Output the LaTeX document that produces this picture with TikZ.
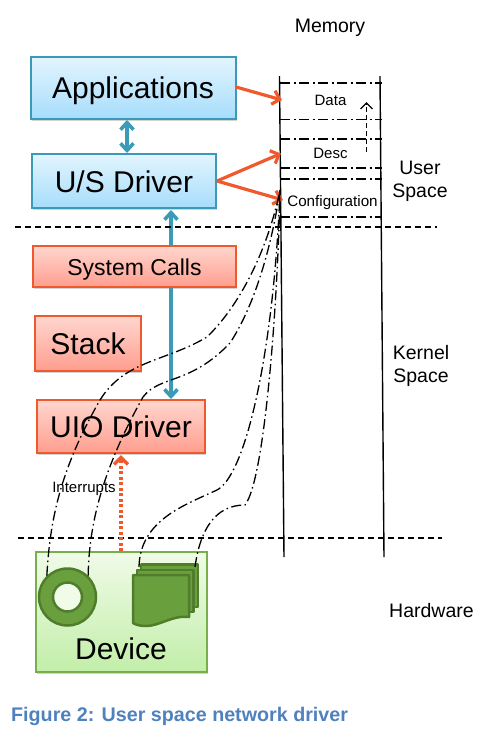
\documentclass[tikz,border=0pt]{standalone}
\usepackage{xcolor}
\usepackage{fontspec}
\setmainfont{Liberation Sans}
\usepackage{tikz}
\usetikzlibrary{arrows.meta,shadows}

\definecolor{bluedge}{HTML}{3A9AB8}
\definecolor{bluetop}{HTML}{E3F5FE}
\definecolor{bluebot}{HTML}{A6DDFB}
\definecolor{reddge}{HTML}{F0592B}
\definecolor{redtop}{HTML}{FFD6CF}
\definecolor{redbot}{HTML}{FF9E8E}
\definecolor{greenedge}{HTML}{78AF4A}
\definecolor{greentop}{HTML}{F0FBE8}
\definecolor{greenbot}{HTML}{C2EEA9}
\definecolor{leaffill}{HTML}{6A9F3E}
\definecolor{leafedge}{HTML}{4F7D2B}
\definecolor{captionblue}{HTML}{4F81BD}

\tikzset{
    plainbox/.style={draw, line width=1.5pt, inner sep=0pt, drop shadow={shadow xshift=1pt, shadow yshift=-2pt, opacity=0.35}},
    bluebox/.style={plainbox, draw=bluedge, top color=bluetop, bottom color=bluebot},
    redbox/.style={plainbox, draw=reddge, top color=redtop, bottom color=redbot},
    greenbox/.style={plainbox, draw=greenedge, top color=greentop, bottom color=greenbot},
    boundary/.style={dash pattern=on 6pt off 4pt, line width=1.2pt},
    memline/.style={line width=1.4pt},
    slot/.style={line width=1.3pt, dash pattern=on 10pt off 3.5pt on 2pt off 3.5pt},
    dmalink/.style={line width=1.3pt, dash pattern=on 10pt off 3.5pt on 1.5pt off 3.5pt},
    bluelink/.style={draw=bluedge, line width=3.6pt},
    redlink/.style={draw=reddge, line width=3.2pt, -{Straight Barb[length=7pt,width=14pt]}},
    bigtext/.style={font=\fontsize{30}{30}\selectfont},
    sidetext/.style={font=\fontsize{19.5}{23}\selectfont, align=center},
    smalltext/.style={font=\fontsize{15}{15}\selectfont},
    leaf/.style={draw=leafedge, fill=leaffill, line width=2.5pt, line join=round}
}

\begin{document}
\begin{tikzpicture}[x=1pt,y=-1pt]
    \useasboundingbox (0,0) rectangle (492,737);

    \draw[bluelink, {Straight Barb[length=7pt,width=13pt]}-{Straight Barb[length=7pt,width=13pt]}] (127,120) -- (127,153);
    \coordinate (sysarrowtop) at (171,210);
    \coordinate (sysarrowend) at (171,399);
    \draw[bluelink, {Straight Barb[length=7pt,width=13pt]}-{Straight Barb[length=7pt,width=13pt]}] (sysarrowtop) -- (sysarrowend);

    \node[bluebox, minimum width=205pt, minimum height=62pt] (apps) at (133.5,88) {};
    \node[bigtext] (appstext) at (133,90.5) {Applications};
    \node[bluebox, minimum width=184pt, minimum height=54pt] (usdriver) at (124,181) {};
    \node[bigtext] (ustext) at (124,182) {U/S Driver};
    \node[redbox, minimum width=203pt, minimum height=41pt] (syscalls) at (134.5,266.5) {};
    \node[font=\fontsize{23}{23}\selectfont] (systext) at (134.5,269.5) {System Calls};
    \node[redbox, minimum width=106pt, minimum height=55pt] (stack) at (88,343.5) {};
    \node[bigtext] (stacktext) at (88,343.5) {Stack};
    \node[redbox, minimum width=168pt, minimum height=53pt] (uio) at (121,426.5) {};
    \node[bigtext] (uiotext) at (121,427) {UIO Driver};
    \node[greenbox, minimum width=171pt, minimum height=120pt] (device) at (121.5,612) {};
    \node[bigtext] (devicetext) at (121,649) {Device};

    \node[circle, draw=leafedge, fill=leaffill, line width=2.5pt, minimum size=57pt, inner sep=0pt] (ring) at (67.5,597) {};
    \node[circle, draw=leafedge, fill=greentop, line width=2.5pt, minimum size=29pt, inner sep=0pt] (ringhole) at (67.5,597) {};

    \draw[leaf] (141,564.5) -- (198,564.5) -- (198,607) -- (141,607) -- cycle;
    \draw[leaf] (137,570) -- (193.5,570) -- (193.5,612) -- (137,612) -- cycle;
    \draw[leaf] (133,575) -- (189,575) -- (189,617) .. controls (172,615) and (160,626) .. (146,626) .. controls (141,626) and (136,625) .. (133,623) -- cycle;
    \coordinate (pagefront) at (139,567);
    \coordinate (pageback) at (195,567);

    \draw[boundary] (15,227) -- (437,227);
    \draw[boundary] (18,538) -- (442,538);

    \coordinate (memleft) at (279.5,76);
    \coordinate (memleftend) at (284,557);
    \coordinate (memright) at (380,76);
    \coordinate (memrightend) at (384,557);
    \draw[memline] (memleft) -- (memleftend);
    \draw[memline] (memright) -- (memrightend);

    \foreach \i/\ypos in {a/83, b/119.5, c/139, d/168, e/179, f/217} {
        \coordinate (slot\i l) at (280,\ypos);
        \coordinate (slot\i r) at (382,\ypos);
        \draw[slot] (slot\i l) -- (slot\i r);
    }

    \coordinate (ptrstart) at (366.5,152);
    \coordinate (ptrend) at (366.5,102);
    \draw[line width=1.3pt, dash pattern=on 5pt off 3pt, -{Straight Barb[length=6pt,width=12pt]}] (ptrstart) -- (ptrend);

    \node[smalltext] (datatext) at (330.5,100.5) {Data};
    \node[smalltext] (desctext) at (330.5,153.5) {Desc};
    \node[font=\fontsize{15.2}{15}\selectfont] (conftext) at (332.5,203) {Configuration};
    \node[sidetext] (memtext) at (330,27.5) {Memory};
    \node[sidetext] (usertext) at (420,181.5) {User\\Space};
    \node[sidetext] (kerneltext) at (421,366) {Kernel\\Space};
    \node[sidetext] (hardtext) at (431.5,610.5) {Hardware};
    \node[smalltext] (irqtext) at (84,488.5) {Interrupts};

    \coordinate (appsout) at (236,87);
    \coordinate (dataport) at (282,100);
    \coordinate (usout) at (217,181);
    \coordinate (descport) at (281,153.5);
    \coordinate (confport) at (283,200);
    \draw[redlink] (appsout) -- (dataport);
    \draw[redlink] (usout) -- (descport);
    \draw[redlink] (usout) -- (confport);

    \coordinate (irqstart) at (121,551);
    \coordinate (irqend) at (121,455);
    \draw[draw=reddge, line width=3.4pt, dash pattern=on 3pt off 2.5pt, -{Straight Barb[length=7pt,width=14pt]}] (irqstart) -- (irqend);

    \coordinate (memtap) at (280,190);
    \draw[dmalink] (ring.134) .. controls (50,520) and (60,470) .. (100,400) .. controls (125,360) and (165,362) .. (207,337) .. controls (245,300) and (270,240) .. (memtap);
    \draw[dmalink] (ring.46) .. controls (89,520) and (105,465) .. (143,397) .. controls (160,375) and (190,385) .. (230,343) .. controls (255,305) and (272,245) .. (memtap);
    \draw[dmalink] (pagefront) .. controls (140,520) and (185,505) .. (217,490) .. controls (246,475) and (274,350) .. (memtap);
    \draw[dmalink] (pageback) .. controls (200,530) and (215,505) .. (245,505) .. controls (265,480) and (278,300) .. (memtap);

    \node[font=\bfseries\fontsize{19.7}{20}\selectfont, text=captionblue, anchor=west, inner sep=0pt] (caption) at (11,716.5) {Figure 2: User space network driver};
\end{tikzpicture}
\end{document}
